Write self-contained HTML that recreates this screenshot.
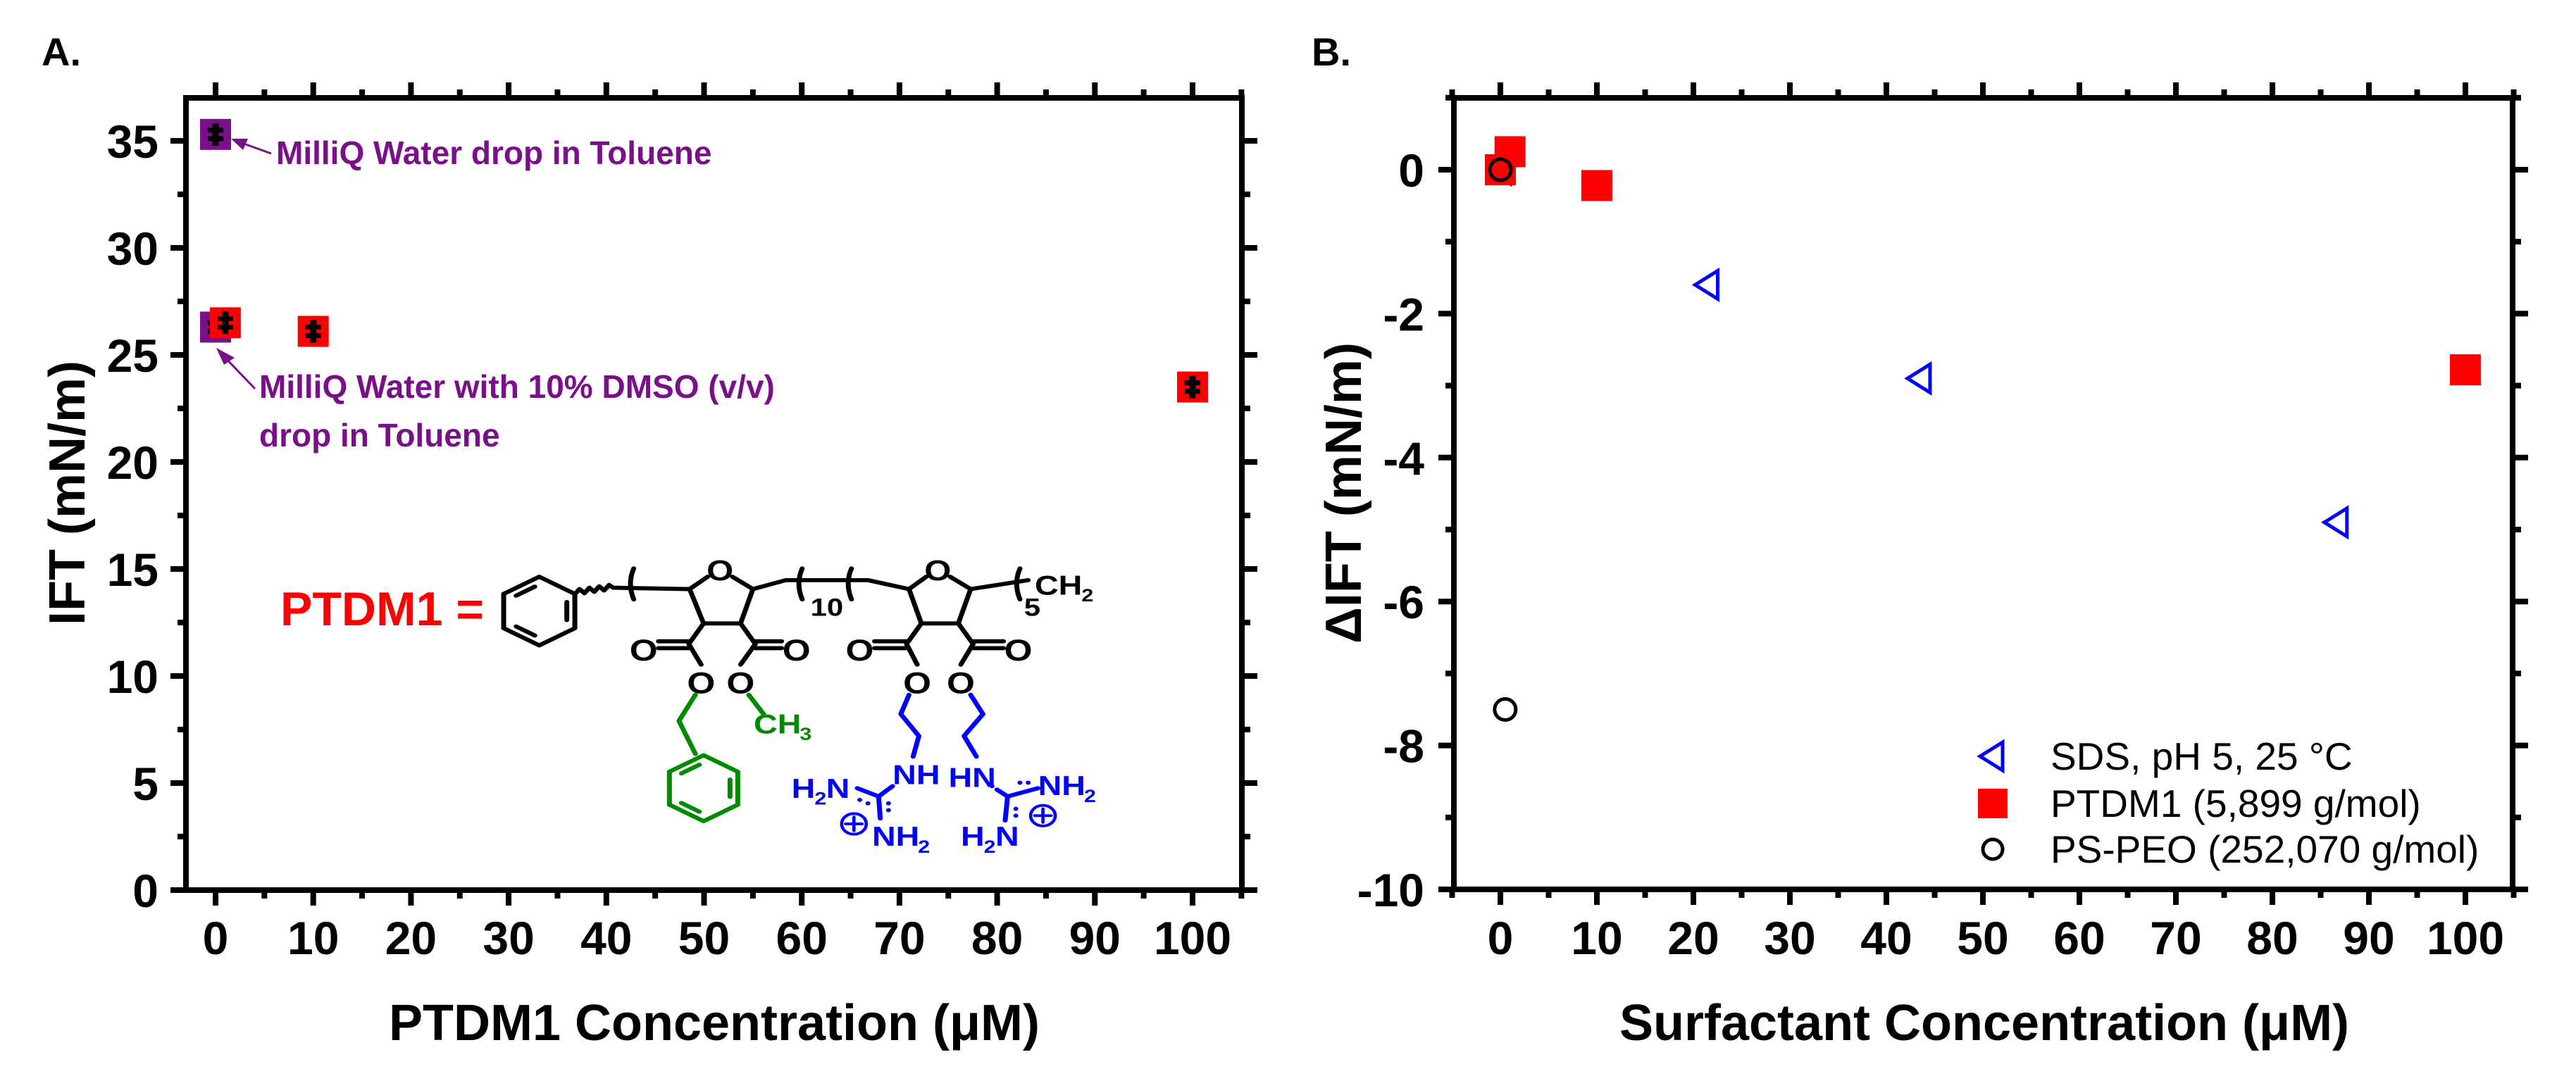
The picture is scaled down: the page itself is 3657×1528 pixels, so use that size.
<!DOCTYPE html>
<html><head><meta charset="utf-8">
<style>
html,body{margin:0;padding:0;background:#fff;}
svg{display:block;font-family:"Liberation Sans",Arial,sans-serif;}
</style></head>
<body>
<svg id="fig" width="3657" height="1528" viewBox="0 0 3657 1528" xmlns="http://www.w3.org/2000/svg">
<g id="panelA"></g>
<g id="panelB"></g>
</svg>
<script>
// ---------- Panel A data ----------
const aWaterX = [0];
const aWaterY = [35.3];
const aDmsoX = [0];
const aDmsoY = [26.3];
const aPtdmX = [1, 10, 100];
const aPtdmY = [26.5, 26.1, 23.5];
const aXTicks = [0,10,20,30,40,50,60,70,80,90,100];
const aYTicks = [0,5,10,15,20,25,30,35];
// ---------- Panel B data ----------
const bSdsX = [0, 21.5, 43.5, 86.7];
const bSdsY = [0, -1.6, -2.9, -4.9];
const bPtdmX = [0, 1, 10, 100];
const bPtdmY = [0, 0.25, -0.22, -2.78];
const bPsX = [0, 0.5];
const bPsY = [0, -7.5];
const bXTicks = [0,10,20,30,40,50,60,70,80,90,100];
const bYTicks = [0,-2,-4,-6,-8,-10];
const legendLabels = ["SDS, pH 5, 25 \u00B0C", "PTDM1 (5,899 g/mol)", "PS-PEO (252,070 g/mol)"];

const NS = "http://www.w3.org/2000/svg";
function mk(parent, tag, attrs, text){
  const e = document.createElementNS(NS, tag);
  for (const k in attrs) e.setAttribute(k, attrs[k]);
  if (text !== undefined) e.textContent = text;
  parent.appendChild(e);
  return e;
}

function makeAxes(g, L, R, T, B, sx, sy, xTicks, xMinor, yTicks, yMinor, yLabRight){
  const frame = mk(g,'rect',{x:L,y:T,width:R-L,height:B-T,fill:'none',stroke:'#000','stroke-width':8});
  
  
  xMinor.forEach(v=>{
    const x = sx(v);
    mk(g,'line',{x1:x,y1:B,x2:x,y2:B+12,stroke:'#000','stroke-width':8});
    mk(g,'line',{x1:x,y1:T,x2:x,y2:T-12,stroke:'#000','stroke-width':8});
  });
  xTicks.forEach(v=>{
    const x = sx(v);
    mk(g,'line',{x1:x,y1:B,x2:x,y2:B+22,stroke:'#000','stroke-width':8});
    mk(g,'line',{x1:x,y1:T,x2:x,y2:T-22,stroke:'#000','stroke-width':8});
    const t = mk(g,'text',{x:x,y:1355,'text-anchor':'middle','font-size':66,'font-weight':'bold'},String(v));
    
    
  });
  yMinor.forEach(v=>{
    const y = sy(v);
    mk(g,'line',{x1:L,y1:y,x2:L-12,y2:y,stroke:'#000','stroke-width':8});
    mk(g,'line',{x1:R,y1:y,x2:R+12,y2:y,stroke:'#000','stroke-width':8});
  });
  yTicks.forEach(v=>{
    const y = sy(v);
    mk(g,'line',{x1:L,y1:y,x2:L-22,y2:y,stroke:'#000','stroke-width':8});
    mk(g,'line',{x1:R,y1:y,x2:R+22,y2:y,stroke:'#000','stroke-width':8});
    const t = mk(g,'text',{x:yLabRight,y:y+24,'text-anchor':'end','font-size':66,'font-weight':'bold'},String(v));
    
    
  });
}

// ================= Panel A =================
(function(){
  const g = document.getElementById('panelA');
  const L=264,R=1763,T=139,B=1264;
  const sx = v => 306 + v*13.87;
  const sy = v => 1264 - v*30.4;
  const xm=[]; for(let v=5; v<=105; v+=10) xm.push(v);
  const ym=[]; for(let v=2.5; v<=37; v+=5) ym.push(v);
  makeAxes(g,L,R,T,B,sx,sy,aXTicks,xm,aYTicks,ym,225);

  let t = mk(g,'text',{x:59,y:93,'font-size':56,'font-weight':'bold'},'A.');
   
  t = mk(g,'text',{x:1014,y:1477,'text-anchor':'middle','font-size':72,'font-weight':'bold'},'PTDM1 Concentration (\u03BCM)');
   
  t = mk(g,'text',{x:0,y:0,'text-anchor':'middle','font-size':72,'font-weight':'bold',transform:'translate(120,700) rotate(-90)'},'IFT (mN/m)');
   

  function sq(x,y,color,name){
    const s = mk(g,'rect',{x:sx(x)-22,y:sy(y)-22,width:44,height:44,fill:color});
    
    
    const cy = sy(y);
    mk(g,'line',{x1:sx(x),y1:cy-16,x2:sx(x),y2:cy+16,stroke:'#000','stroke-width':9});
    mk(g,'line',{x1:sx(x)-11,y1:cy-6,x2:sx(x)+11,y2:cy-6,stroke:'#000','stroke-width':7});
    mk(g,'line',{x1:sx(x)-11,y1:cy+6,x2:sx(x)+11,y2:cy+6,stroke:'#000','stroke-width':7});
  }
  aWaterX.forEach((x,i)=>sq(x,aWaterY[i],'#7a0f8a','water-point'));
  aDmsoX.forEach((x,i)=>sq(x,aDmsoY[i],'#7a0f8a','dmso-point'));
  aPtdmX.forEach((x,i)=>sq(x,aPtdmY[i],'#ff0000','ptdm1-point'));

  // annotations
  const pc = '#7a0f8a';
  t = mk(g,'text',{x:392,y:233,'font-size':46,'font-weight':'bold',fill:pc},'MilliQ Water drop in Toluene');
   
  mk(g,'line',{x1:385,y1:218,x2:335,y2:200,stroke:pc,'stroke-width':3});
  mk(g,'polygon',{points:'328,197 352,197 345,213',fill:pc});
  t = mk(g,'text',{x:368,y:565,'font-size':46,'font-weight':'bold',fill:pc},'MilliQ Water with 10% DMSO (v/v)');
   
  mk(g,'text',{x:368,y:634,'font-size':46,'font-weight':'bold',fill:pc},'drop in Toluene');
  mk(g,'line',{x1:362,y1:552,x2:312,y2:500,stroke:pc,'stroke-width':3});
  mk(g,'polygon',{points:'307,494 333,508 318,518',fill:pc});

  t = mk(g,'text',{x:398,y:888,'font-size':68,'font-weight':'bold',fill:'#ff0000'},'PTDM1 =');
   

  // chemical structure (drawn in zoom-1 display coords, scaled)
  const s = mk(g,'g',{transform:'translate(1.5,0) scale(1.1665,0.975)',fill:'none','stroke-width':6,'stroke-linecap':'round','stroke-linejoin':'round'});
   
  function hex(cx,cy,r,col){
    const p=[]; for(let k=0;k<6;k++){const a=Math.PI/2+k*Math.PI/3; p.push((cx+r*Math.cos(a)).toFixed(1)+','+(cy+r*Math.sin(a)).toFixed(1));}
    mk(s,'polygon',{points:p.join(' '),stroke:col});
    for(let k=0;k<6;k+=2){const a=Math.PI/2+k*Math.PI/3+0.15, b=Math.PI/2+(k+1)*Math.PI/3-0.15;
      mk(s,'line',{x1:cx+0.72*r*Math.cos(a),y1:cy+0.72*r*Math.sin(a),x2:cx+0.72*r*Math.cos(b),y2:cy+0.72*r*Math.sin(b),stroke:col});}
  }
  const K='#000', Gc='#008a00', Bc='#0000ff';
  const txt=(x,y,str,col,fs,anchor)=>mk(s,'text',{x:x,y:y,'font-size':fs||44,'font-weight':'bold',fill:col,stroke:'none','text-anchor':anchor||'start'},str);
  hex(655,890,50,K);
  mk(s,'path',{d:'M698,866 l6,-8 l6,6 l6,-8 l6,6 l6,-8 l6,6 l6,-8 l5,4 L838,858',stroke:K});
  mk(s,'path',{d:'M770,828 q-8,22 0,45',stroke:K});
  // ring 1
  mk(s,'path',{d:'M838,858 L860,840 M890,840 L915,858 L900,908 L855,908 L838,858',stroke:K});
  txt(875,845,'O',K,42,'middle');
  mk(s,'path',{d:'M915,858 L955,845 L1055,845 L1105,858',stroke:K});
  mk(s,'path',{d:'M975,828 q-8,22 0,45 M1035,828 q-8,22 0,45',stroke:K});
  txt(985,897,'10',K,36);
  // ring 2
  mk(s,'path',{d:'M1105,858 L1126,840 M1155,840 L1180,858 L1165,908 L1120,908 L1105,858',stroke:K});
  txt(1140,845,'O',K,42,'middle');
  mk(s,'path',{d:'M1180,858 L1250,845 M1240,828 q-8,22 0,45',stroke:K});
  txt(1245,897,'5',K,36);
  txt(1258,866,'CH',K,40);
  txt(1315,876,'2',K,26);
  // esters
  [[855,908,-1,782,852],[900,908,1,968,900],[1120,908,-1,1045,1115],[1165,908,1,1238,1168]].forEach(e=>{
    const [x,y,d,ox,o2]=e;
    const ex = ox+(d<0?18:-18);
    mk(s,'path',{d:`M${x},${y} L${x+d*18},${y+30} M${x+d*18},${y+26} L${ex},${y+26} M${x+d*18},${y+36} L${ex},${y+36} M${x+d*18},${y+30} L${o2},${y+60}`,stroke:K});
    txt(ox,y+54,'O',K,44,'middle');
    txt(o2,y+102,'O',K,44,'middle');
  });
  // green side chains
  mk(s,'path',{d:'M845,1012 L825,1050 L845,1098',stroke:Gc});
  hex(855,1148,48,Gc);
  mk(s,'path',{d:'M910,1012 L928,1040',stroke:Gc});
  txt(916,1068,'CH',Gc,40);
  txt(972,1078,'3',Gc,26);
  // blue chains
  mk(s,'path',{d:'M1105,1012 L1095,1040 L1117,1072 L1110,1102',stroke:Bc});
  mk(s,'path',{d:'M1180,1012 L1195,1040 L1172,1072 L1187,1102',stroke:Bc});
  const bt=(x,y,str,fs)=>txt(x,y,str,Bc,fs||40);
  bt(1085,1142,'NH'); bt(1153,1146,'HN');
  bt(962,1162,'H'); bt(990,1172,'2',26); bt(1004,1162,'N');
  bt(1060,1232,'NH'); bt(1116,1242,'2',26);
  bt(1262,1158,'NH'); bt(1318,1168,'2',26);
  bt(1168,1232,'H'); bt(1196,1242,'2',26); bt(1210,1232,'N');
  mk(s,'path',{d:'M1042,1148 L1068,1160 L1085,1145 M1068,1160 L1070,1192',stroke:Bc});
  mk(s,'path',{d:'M1225,1160 L1262,1148 M1225,1160 L1222,1195 M1225,1160 L1212,1150',stroke:Bc});
  [[1045,1165],[1055,1170],[1080,1170],[1080,1180],[1206,1145],[1240,1140],[1250,1140],[1235,1178],[1235,1188]].forEach(p=>mk(s,'circle',{cx:p[0],cy:p[1],r:3,fill:Bc,stroke:'none'}));
  mk(s,'circle',{cx:1038,cy:1200,r:15,stroke:Bc,'stroke-width':4});
  mk(s,'path',{d:'M1028,1200 h20 M1038,1190 v20',stroke:Bc,'stroke-width':4});
  mk(s,'circle',{cx:1268,cy:1188,r:15,stroke:Bc,'stroke-width':4});
  mk(s,'path',{d:'M1258,1188 h20 M1268,1178 v20',stroke:Bc,'stroke-width':4});
})();

// ================= Panel B =================
(function(){
  const g = document.getElementById('panelB');
  const L=2064,R=3567,T=139,B=1263;
  const sx = v => 2130 + v*13.7;
  const sy = v => 241 - v*102.2;
  const xm=[]; for(let v=-5; v<=105; v+=10) xm.push(v);
  const ym=[]; for(let v=-9; v<=1; v+=2) ym.push(v);
  makeAxes(g,L,R,T,B,sx,sy,bXTicks,xm,bYTicks,ym,2022);

  let t = mk(g,'text',{x:1862,y:93,'font-size':56,'font-weight':'bold'},'B.');
   
  t = mk(g,'text',{x:2817,y:1477,'text-anchor':'middle','font-size':72,'font-weight':'bold'},'Surfactant Concentration (\u03BCM)');
   
  t = mk(g,'text',{x:0,y:0,'text-anchor':'middle','font-size':72,'font-weight':'bold',transform:'translate(1932,700) rotate(-90)'},'\u0394IFT (mN/m)');
   

  function tri(cx,cy){ return `${cx-18},${cy} ${cx+14},${cy-20} ${cx+14},${cy+20}`; }
  bSdsX.forEach((x,i)=>{
    const p = mk(g,'polygon',{points:tri(sx(x),sy(bSdsY[i])),fill:'none',stroke:'#0000ff','stroke-width':5});
    
    
  });
  bPtdmX.forEach((x,i)=>{
    const r = mk(g,'rect',{x:sx(x)-22,y:sy(bPtdmY[i])-22,width:44,height:44,fill:'#ff0000'});
    
    
  });
  bPsX.forEach((x,i)=>{
    const c = mk(g,'circle',{cx:sx(x),cy:sy(bPsY[i]),r:15,fill:'none',stroke:'#000','stroke-width':5});
    
    
  });

  // legend
  const lg = mk(g,'g',{});
  
  
  const rows=[1074,1141,1206];
  mk(lg,'polygon',{points:tri(2829,rows[0]),fill:'none',stroke:'#0000ff','stroke-width':5});
  mk(lg,'rect',{x:2808,y:rows[1]-21,width:42,height:42,fill:'#ff0000'});
  mk(lg,'circle',{cx:2829,cy:rows[2],r:14,fill:'none',stroke:'#000','stroke-width':5});
  legendLabels.forEach((lab,i)=>{
    const e = mk(lg,'text',{x:2911,y:rows[i]+19,'font-size':55,fill:'#000'},lab);
    
    
  });
})();
</script>
</body></html>
